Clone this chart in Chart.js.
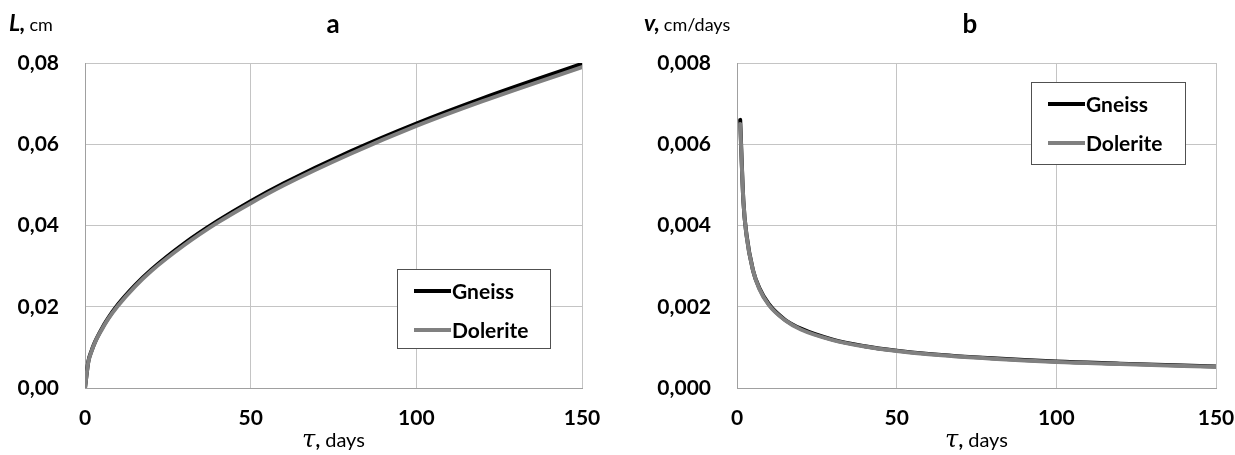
<!DOCTYPE html>
<html>
<head>
<meta charset="utf-8">
<script src="https://cdn.jsdelivr.net/npm/chart.js@4"></script>
<style>
    body { margin: 0; background: #fff; width: 1235px; height: 455px; overflow: hidden; }
    .panel { position: absolute; top: 0; height: 455px; }
    #panelA { left: 0; width: 617px; }
    #panelB { left: 617px; width: 618px; }
</style>
</head>
<body>
<div class="panel" id="panelA"><canvas id="chartA" width="617" height="455"></canvas></div>
<div class="panel" id="panelB"><canvas id="chartB" width="618" height="455"></canvas></div>
<script>
// ---- data ----
const lengthDays = [0, 1, 2, 3, 5, 7, 10, 15, 20, 30, 40, 50, 60, 80, 100, 120, 150];
const lengthGneiss   = [0, 0.0065, 0.0092, 0.0113, 0.0145, 0.0172, 0.0206, 0.0252, 0.0291, 0.0356, 0.0411, 0.0460, 0.0504, 0.0582, 0.0651, 0.0713, 0.0798];
const lengthDolerite = [0, 0.0064, 0.0091, 0.0112, 0.0143, 0.0170, 0.0203, 0.0249, 0.0288, 0.0352, 0.0407, 0.0455, 0.0499, 0.0576, 0.0645, 0.0706, 0.0790];

const speedDays = [1, 2, 3, 5, 7, 10, 15, 20, 30, 40, 50, 60, 80, 100, 120, 150];
const speedGneiss   = [0.0066, 0.0046, 0.00376, 0.0029, 0.00246, 0.00206, 0.00168, 0.00146, 0.00119, 0.00103, 0.00092, 0.00084, 0.00073, 0.00065, 0.00060, 0.00053];
const speedDolerite = [0.0065, 0.0046, 0.00374, 0.0029, 0.00244, 0.00204, 0.00167, 0.00144, 0.00118, 0.00102, 0.00091, 0.00083, 0.00072, 0.00064, 0.00059, 0.00052];

const dayTicks = [0, 50, 100, 150];
const lengthTicks = [0, 0.02, 0.04, 0.06, 0.08];
const speedTicks = [0, 0.002, 0.004, 0.006, 0.008];
const seriesNames = ['Gneiss', 'Dolerite'];

const GRID = '#c4c4c4';
const BORDER = '#a0a0a0';
const GNEISS_CLR = '#000000';
const DOLERITE_CLR = '#808080';
const FONT = 'Lato, sans-serif';

const toPoints = (xs, ys) => xs.map((x, i) => ({ x, y: ys[i] }));

// panel letter, axis titles and in-plot legend
const overlay = {
    id: 'overlay',
    afterDraw(chart, args, o) {
        const c = chart.ctx;
        const a = chart.chartArea;
        c.save();
        c.fillStyle = '#000';
        c.textBaseline = 'alphabetic';

        // panel letter
        c.textAlign = 'center';
        c.font = 'bold 26px ' + FONT;
        c.fillText(o.letter, o.letterX, 33);

        // y title: bold italic symbol + unit
        c.textAlign = 'left';
        c.font = 'italic bold 23px ' + FONT;
        c.fillText(o.symbol, o.symbolX, 31);
        const w = c.measureText(o.symbol).width;
        c.font = '18px ' + FONT;
        c.fillText(o.unit, o.symbolX + w + 4, 31);

        // x title
        const cx = (a.left + a.right) / 2;
        const parts = [
            ['τ', 'italic 24px "DejaVu Serif", serif'],
            [',', 'bold 20px ' + FONT],
            [' days', '20px ' + FONT]
        ];
        let total = 0;
        parts.forEach(p => { c.font = p[1]; total += c.measureText(p[0]).width; });
        let x = cx - total / 2;
        parts.forEach(p => {
            c.font = p[1];
            c.fillText(p[0], x, 447);
            x += c.measureText(p[0]).width;
        });

        // legend box
        const b = o.legendBox;
        c.fillStyle = '#fff';
        c.fillRect(b.x, b.y, b.w, b.h);
        c.strokeStyle = '#505050';
        c.lineWidth = 1;
        c.strokeRect(b.x + 0.5, b.y + 0.5, b.w, b.h);
        const colors = [GNEISS_CLR, DOLERITE_CLR];
        c.font = 'bold 21px ' + FONT;
        c.textBaseline = 'middle';
        seriesNames.forEach((name, i) => {
            const ly = b.y + 22 + i * 39;
            c.strokeStyle = colors[i];
            c.lineWidth = 4;
            c.beginPath();
            c.moveTo(b.x + 17, ly);
            c.lineTo(b.x + 54, ly);
            c.stroke();
            c.fillStyle = '#000';
            c.fillText(name, b.x + 55, ly + 1);
        });
        c.restore();
    }
};

function makeChart(id, cfg) {
    return new Chart(document.getElementById(id), {
        type: 'line',
        data: {
            datasets: [
                { label: 'Dolerite', data: toPoints(cfg.days, cfg.dolerite), borderColor: DOLERITE_CLR, borderWidth: 4 },
                { label: 'Gneiss', data: toPoints(cfg.days, cfg.gneiss), borderColor: GNEISS_CLR, borderWidth: 4 },
            ]
        },
        options: {
            responsive: false,
            animation: false,
            layout: { padding: { top: 63, right: cfg.padRight, left: 0, bottom: 0 } },
            elements: {
                point: { radius: 0 },
                line: { cubicInterpolationMode: 'monotone', borderCapStyle: 'round' }
            },
            plugins: {
                legend: { display: false },
                tooltip: { enabled: false },
                overlay: cfg.overlay
            },
            scales: {
                x: {
                    type: 'linear', min: 0, max: 150,
                    afterBuildTicks: ax => { ax.ticks = dayTicks.map(v => ({ value: v })); },
                    afterFit: ax => { ax.height = 67; ax.paddingRight = 0; ax.paddingLeft = 0; },
                    grid: { color: GRID, drawTicks: false },
                    border: { color: BORDER },
                    ticks: { padding: 18, color: '#000', font: { family: 'Lato', size: 21, weight: 'bold' }, maxRotation: 0 }
                },
                y: {
                    min: 0, max: cfg.yMax,
                    afterBuildTicks: ax => { ax.ticks = cfg.yTicks.map(v => ({ value: v })); },
                    afterFit: ax => { ax.width = cfg.yWidth; ax.paddingTop = 0; ax.paddingBottom = 0; },
                    grid: { color: GRID, drawTicks: false },
                    border: { color: BORDER },
                    ticks: {
                        padding: 26, color: '#000',
                        font: { family: 'Lato', size: 21, weight: 'bold' },
                        callback: v => v.toFixed(cfg.decimals).replace('.', ',')
                    }
                }
            }
        },
        plugins: [overlay]
    });
}

makeChart('chartA', {
    days: lengthDays, gneiss: lengthGneiss, dolerite: lengthDolerite,
    yMax: 0.08, yTicks: lengthTicks, decimals: 2, yWidth: 85, padRight: 35,
    overlay: { letter: 'a', letterX: 333, symbol: 'L,', symbolX: 9, unit: 'cm',
               legendBox: { x: 397, y: 269, w: 153, h: 79 } }
});

makeChart('chartB', {
    days: speedDays, gneiss: speedGneiss, dolerite: speedDolerite,
    yMax: 0.008, yTicks: speedTicks, decimals: 3, yWidth: 120, padRight: 19,
    overlay: { letter: 'b', letterX: 353, symbol: 'v,', symbolX: 27, unit: 'cm/days',
               legendBox: { x: 414, y: 82, w: 154, h: 82 } }
});
</script>
</body>
</html>
